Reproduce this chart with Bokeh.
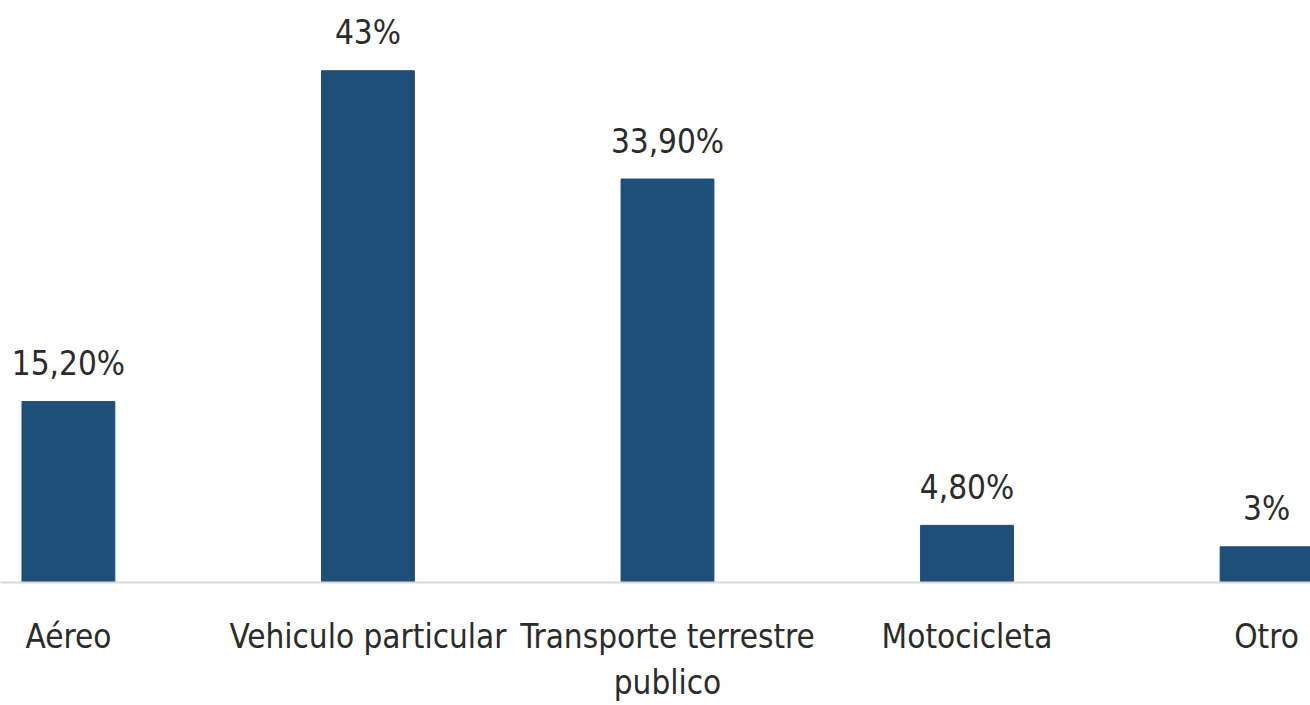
from bokeh.plotting import figure
from bokeh.models import Range1d, FixedTicker, ColumnDataSource
from bokeh.core.properties import value
from bokeh.embed import file_html
from bokeh.resources import INLINE

categories = ["Aéreo", "Vehiculo particular", "Transporte terrestre\npublico", "Motocicleta", "Otro"]
values = [15.2, 43.0, 33.9, 4.8, 3.0]
value_labels = ["15,20%", "43%", "33,90%", "4,80%", "3%"]

FONT = "DejaVu Sans Condensed"
BAR = "#1F4E79"
TXT = "#2b2b2b"

xs = list(range(len(categories)))
src = ColumnDataSource(dict(x=xs, top=values, lab=value_labels))

p = figure(width=1310, height=705, output_backend="svg", toolbar_location=None,
           x_range=Range1d(-0.2267, 4.1467), y_range=Range1d(0, 48.9),
           min_border_left=0, min_border_right=0, min_border_top=0, min_border_bottom=119)

p.vbar(x="x", top="top", width=0.31, bottom=0, color=BAR, source=src)
p.text(x="x", y="top", text="lab", source=src, text_align="center", text_baseline="alphabetic",
       y_offset=-38, text_font=value(FONT), text_font_size="33px", text_color=TXT)

p.yaxis.visible = False
p.xgrid.visible = False
p.ygrid.visible = False
p.outline_line_color = None

ax = p.xaxis[0]
ax.ticker = FixedTicker(ticks=xs)
ax.major_label_overrides = {i: c for i, c in enumerate(categories)}
ax.axis_line_color = "#d9d9d9"
ax.axis_line_width = 2
ax.major_tick_line_color = None
ax.minor_tick_line_color = None
ax.major_tick_out = 0
ax.major_tick_in = 0
ax.major_label_standoff = 34
ax.major_label_text_font = FONT
ax.major_label_text_font_size = "33px"
ax.major_label_text_line_height = 1.2
ax.major_label_text_color = TXT

open("out.html", "w").write(file_html(p, INLINE))
